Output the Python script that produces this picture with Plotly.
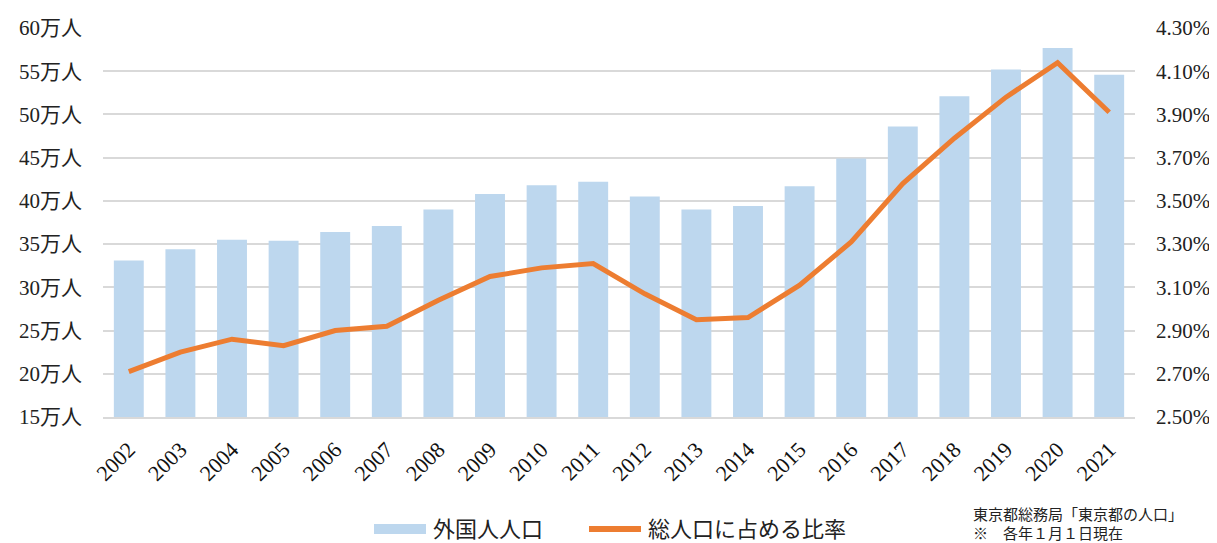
import plotly.graph_objects as go

years = [str(y) for y in range(2002, 2022)]
foreign_pop = [33.1, 34.4, 35.5, 35.4, 36.4, 37.1, 39.0, 40.8, 41.8, 42.2,
               40.5, 39.0, 39.4, 41.7, 44.9, 48.6, 52.1, 55.2, 57.7, 54.6]
ratio = [2.71, 2.80, 2.86, 2.83, 2.90, 2.92, 3.04, 3.15, 3.19, 3.21,
         3.07, 2.95, 2.96, 3.11, 3.31, 3.58, 3.79, 3.98, 4.14, 3.91]

left_ticks = list(range(15, 65, 5))
left_labels = [f"{v}万人" for v in left_ticks]
right_ticks = [2.5 + 0.2 * i for i in range(10)]
right_labels = [f"{v:.2f}%" for v in right_ticks]

BAR_NAME = "外国人人口"
LINE_NAME = "総人口に占める比率"
BAR_COLOR = "#BDD7EE"
LINE_COLOR = "#ED7D31"

FONT = "Liberation Serif, Noto Sans CJK JP, serif"
OFF = 8  # page body margin
W, H = 1217 - OFF, 543 - OFF
ML, MT = 103 - OFF, 28 - OFF
MR = W - (1135 - OFF)
MB = H - (417 - OFF)

fig = go.Figure()
fig.add_trace(go.Bar(x=years, y=foreign_pop, name=BAR_NAME,
                     marker=dict(color=BAR_COLOR, line=dict(width=0)),
                     yaxis="y", showlegend=False))
fig.add_trace(go.Scatter(x=years, y=ratio, name=LINE_NAME,
                         mode="lines", line=dict(color=LINE_COLOR, width=5),
                         yaxis="y2", showlegend=False))

fig.update_layout(
    width=W, height=H,
    margin=dict(l=ML, r=MR, t=MT, b=MB),
    paper_bgcolor="white", plot_bgcolor="white",
    font=dict(family=FONT, size=20, color="#222222"),
    bargap=0.42,
    showlegend=False,
    xaxis=dict(tickangle=-45, showgrid=False, showline=True, linecolor="#d9d9d9",
               linewidth=2, tickfont=dict(size=22, color="#111111"),
               ticks="", ticklabelstandoff=9, automargin=False),
    yaxis=dict(range=[15, 60], tickvals=left_ticks, ticktext=left_labels,
               showgrid=True, gridcolor="#d9d9d9", gridwidth=2,
               zeroline=False, showline=False, ticks="",
               tickfont=dict(size=21, color="#222222"), ticklabelstandoff=20,
               automargin=False),
    yaxis2=dict(range=[2.5, 4.3], tickvals=right_ticks, ticktext=right_labels,
                overlaying="y", side="right", showgrid=False, zeroline=False,
                showline=False, ticks="",
                tickfont=dict(size=21, color="#222222"), ticklabelstandoff=20,
                automargin=False),
)

# custom legend (page pixel positions converted to paper coordinates)
pw, ph = W - ML - MR, H - MT - MB
def px(x):
    return (x - OFF - ML) / pw
def py(y):
    return (H - MB - (y - OFF)) / ph

fig.add_shape(type="rect", xref="paper", yref="paper",
              x0=px(374), x1=px(426), y0=py(534), y1=py(524),
              fillcolor=BAR_COLOR, line=dict(width=0))
fig.add_annotation(text=BAR_NAME, xref="paper", yref="paper",
                   x=px(431), y=py(529), xanchor="left", yanchor="middle",
                   showarrow=False, font=dict(size=22, color="#222222"))
fig.add_shape(type="line", xref="paper", yref="paper",
              x0=px(589), x1=px(641), y0=py(529), y1=py(529),
              line=dict(color=LINE_COLOR, width=6))
fig.add_annotation(text=LINE_NAME, xref="paper", yref="paper",
                   x=px(646), y=py(529), xanchor="left", yanchor="middle",
                   showarrow=False, font=dict(size=22, color="#222222"))

fig.add_annotation(text="東京都総務局「東京都の人口」", xref="paper", yref="paper",
                   x=px(971), y=py(513), xanchor="left", yanchor="middle",
                   showarrow=False, font=dict(size=15, color="#222222",
                                              family="Noto Sans CJK JP"))
fig.add_annotation(text="※　各年１月１日現在", xref="paper", yref="paper",
                   x=px(971), y=py(532), xanchor="left", yanchor="middle",
                   showarrow=False, font=dict(size=15, color="#222222",
                                              family="Noto Sans CJK JP"))

fig.write_html("out.html")
